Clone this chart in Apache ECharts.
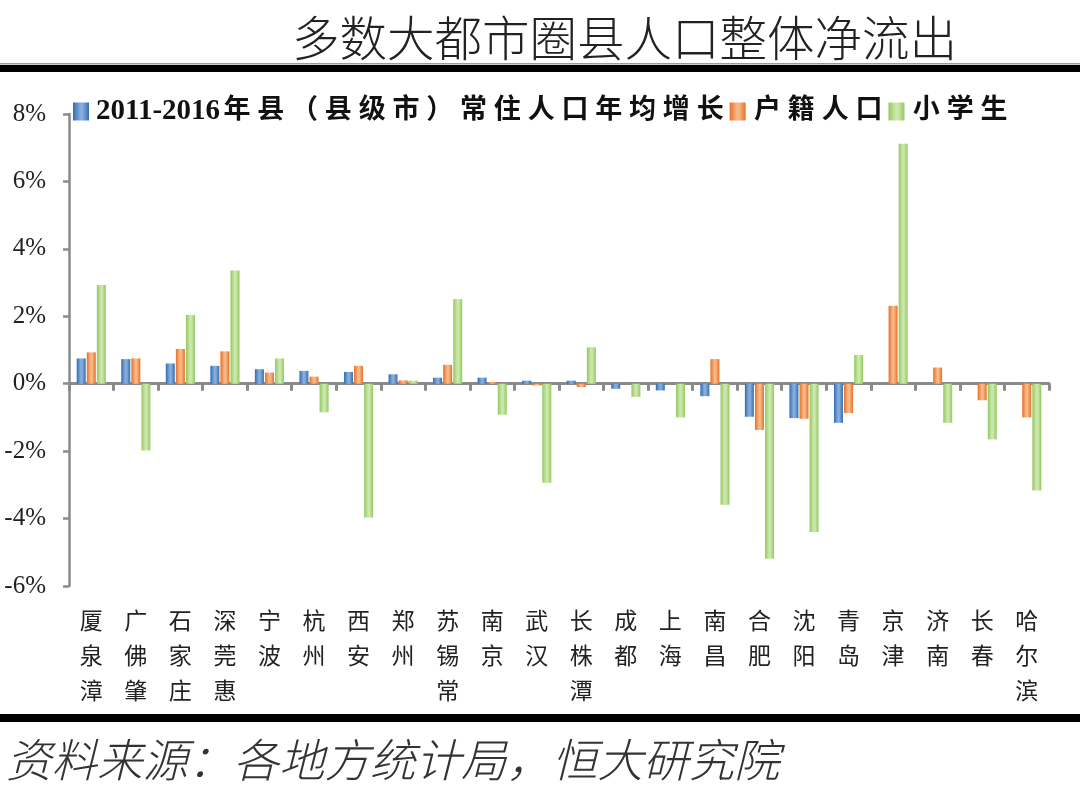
<!DOCTYPE html>
<html>
<head>
<meta charset="utf-8">
<script src="https://cdn.jsdelivr.net/npm/echarts@6/dist/echarts.min.js"></script>
<style>
html,body{margin:0;padding:0;background:#fff;}
#c{width:1080px;height:797px;}
</style>
</head>
<body>
<div id="c"></div>
<script>
var categories = ['厦泉漳','广佛肇','石家庄','深莞惠','宁波','杭州','西安','郑州','苏锡常','南京','武汉','长株潭','成都','上海','南昌','合肥','沈阳','青岛','京津','济南','长春','哈尔滨'];
var residentGrowth = [0.75,0.73,0.60,0.53,0.43,0.38,0.35,0.28,0.18,0.18,0.09,0.09,-0.15,-0.20,-0.37,-0.98,-1.02,-1.16,null,null,null,null];
var hukouPop = [0.93,0.75,1.03,0.96,0.33,0.21,0.53,0.10,0.56,0.05,-0.05,-0.10,null,null,0.73,-1.37,-1.04,-0.87,2.31,0.48,-0.49,-1.00];
var pupils = [2.93,-1.98,2.04,3.36,0.75,-0.85,-3.97,0.09,2.51,-0.92,-2.94,1.08,-0.39,-1.00,-3.59,-5.19,-4.40,0.85,7.12,-1.16,-1.65,-3.17];
var seriesNames = ['2011-2016年县（县级市）常住人口年均增长','户籍人口','小学生'];
var yTicks = {min:-6, max:8, interval:2};

function grad(edge, mid){
  return {type:'linear',x:0,y:0,x2:1,y2:0,colorStops:[
    {offset:0,color:edge},{offset:0.45,color:mid},{offset:0.6,color:mid},{offset:1,color:edge}]};
}
var cBlue = grad('#2f6db4','#86acd9');
var cOrange = grad('#e86f23','#f8b786');
var cGreen = grad('#93c85e','#cbe7ab');

var chart = echarts.init(document.getElementById('c'), null, {renderer:'canvas'});
var cjk = '"Noto Sans CJK SC", sans-serif';
var legFont = '"Liberation Serif", "Noto Sans CJK SC", serif';

function spaced(name){
  var out = '';
  var chars = name.split('');
  var buf = '';
  chars.forEach(function(ch){
    if (/[\x00-\x7f]/.test(ch)) { buf += ch; }
    else {
      if (buf) { out += '{n|' + buf + '}'; buf = ''; }
      out += '{c|' + ch + '}';
    }
  });
  if (buf) out += '{n|' + buf + '}';
  return out;
}

var option = {
  backgroundColor:'#fff',
  animation:false,
  legend:{
    left:68, top:92,
    itemWidth:16, itemHeight:18, itemGap:6,
    icon:'rect',
    formatter:spaced,
    textStyle:{fontSize:28, fontWeight:'bold', color:'#111', fontFamily:legFont,
      rich:{
        n:{fontSize:29, fontWeight:'bold', color:'#111', fontFamily:legFont, padding:[0,0,0,2]},
        c:{fontSize:27, fontWeight:'bold', color:'#111', fontFamily:legFont, padding:[0,3.4,0,3.4]}
      }
    },
    data:[
      {name:seriesNames[0], itemStyle:{color:cBlue}},
      {name:seriesNames[1], itemStyle:{color:cOrange}},
      {name:seriesNames[2], itemStyle:{color:cGreen}}
    ]
  },
  grid:{left:69, right:31, top:114, bottom:211, containLabel:false},
  xAxis:[{
    type:'category', data:categories, position:'bottom',
    axisLine:{onZero:true, lineStyle:{color:'#8a8a8a', width:3}},
    axisTick:{show:true, interval:0, length:7, lineStyle:{color:'#8a8a8a', width:3}},
    axisLabel:{show:false},
    splitLine:{show:false}
  },{
    type:'category', data:categories, position:'bottom',
    axisLine:{show:false, onZero:false}, axisTick:{show:false},
    axisLabel:{show:true, interval:0, margin:17, fontSize:23, lineHeight:35, color:'#222', fontFamily:cjk, verticalAlign:'top',
      formatter:function(v){return v.split('').join('\n');}}
  }],
  yAxis:{
    type:'value', min:yTicks.min, max:yTicks.max, interval:yTicks.interval,
    axisLine:{show:true, lineStyle:{color:'#8a8a8a', width:2.5}},
    axisTick:{show:true, length:6, lineStyle:{color:'#8a8a8a', width:2.5}},
    splitLine:{show:false},
    axisLabel:{formatter:'{value}%', fontSize:25, color:'#222', fontFamily:'"Liberation Serif", serif', margin:23}
  },
  series:[
    {name:seriesNames[0], type:'bar', data:residentGrowth, barWidth:9, barGap:'12%', itemStyle:{color:cBlue}},
    {name:seriesNames[1], type:'bar', data:hukouPop, barWidth:9, barGap:'12%', itemStyle:{color:cOrange}},
    {name:seriesNames[2], type:'bar', data:pupils, barWidth:9, barGap:'12%', itemStyle:{color:cGreen}}
  ],
  graphic:[
    {type:'text', left:292, top:14, style:{text:'多数大都市圈县人口整体净流出', fontSize:47.5, fill:'#222', fontFamily:cjk, fontWeight:300}},
    {type:'rect', left:0, top:63, shape:{width:1080, height:1.5}, style:{fill:'#999'}},
    {type:'rect', left:0, top:65, shape:{width:1080, height:7}, style:{fill:'#000'}},
    {type:'rect', left:0, top:714, shape:{width:1080, height:8}, style:{fill:'#000'}},
    {type:'text', left:6, top:737, style:{text:'资料来源：各地方统计局，恒大研究院', fontSize:45.5, fill:'#333', fontStyle:'italic', fontFamily:cjk, fontWeight:300}}
  ]
};
chart.setOption(option);
</script>
</body>
</html>
